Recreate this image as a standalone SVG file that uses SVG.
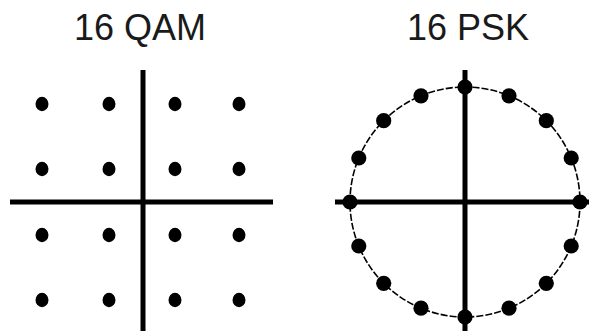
<svg xmlns="http://www.w3.org/2000/svg" width="589" height="331" viewBox="0 0 589 331">
  <style>
    .title { font-family: "Liberation Sans", Arial, sans-serif; font-size: 36px; fill: #1a1a1a; text-anchor: middle; }
    .axis { stroke: #000; stroke-width: 5; fill: none; }
    .pt { fill: #000; }
    .ring { stroke: #000; stroke-width: 1.6; fill: none; stroke-dasharray: 7 2; }
  </style>
  <defs>
    <ellipse id="qdot" rx="6.5" ry="7.2" class="pt"/>
    <circle id="pdot" r="7.6" class="pt"/>
  </defs>
  <rect width="589" height="331" fill="#fff"/>

  <g id="qam">
    <text class="title" x="140" y="40">16 QAM</text>
    <g id="qam-axes">
      <line class="axis" x1="143" y1="70" x2="143" y2="331"/>
      <line class="axis" x1="10" y1="202" x2="273" y2="202"/>
    </g>
    <g id="qam-points">
      <use href="#qdot" x="42" y="104"/><use href="#qdot" x="109" y="104"/><use href="#qdot" x="175" y="104"/><use href="#qdot" x="239" y="104"/>
      <use href="#qdot" x="42" y="169"/><use href="#qdot" x="109" y="169"/><use href="#qdot" x="175" y="169"/><use href="#qdot" x="239" y="169"/>
      <use href="#qdot" x="42" y="235"/><use href="#qdot" x="109" y="235"/><use href="#qdot" x="175" y="235"/><use href="#qdot" x="239" y="235"/>
      <use href="#qdot" x="42" y="300"/><use href="#qdot" x="109" y="300"/><use href="#qdot" x="175" y="300"/><use href="#qdot" x="239" y="300"/>
    </g>
  </g>

  <g id="psk">
    <text class="title" x="468" y="40">16 PSK</text>
    <circle class="ring" cx="465" cy="202" r="115"/>
    <g id="psk-axes">
      <line class="axis" x1="465" y1="70" x2="465" y2="331"/>
      <line class="axis" x1="335" y1="202" x2="589" y2="202"/>
    </g>
    <g id="psk-points">
      <use href="#pdot" x="580" y="202"/>
      <use href="#pdot" x="571.2" y="158"/>
      <use href="#pdot" x="546.3" y="120.7"/>
      <use href="#pdot" x="509" y="95.8"/>
      <use href="#pdot" x="465" y="87"/>
      <use href="#pdot" x="421" y="95.8"/>
      <use href="#pdot" x="383.7" y="120.7"/>
      <use href="#pdot" x="358.8" y="158"/>
      <use href="#pdot" x="350" y="202"/>
      <use href="#pdot" x="358.8" y="246"/>
      <use href="#pdot" x="383.7" y="283.3"/>
      <use href="#pdot" x="421" y="308.2"/>
      <use href="#pdot" x="465" y="317"/>
      <use href="#pdot" x="509" y="308.2"/>
      <use href="#pdot" x="546.3" y="283.3"/>
      <use href="#pdot" x="571.2" y="246"/>
    </g>
  </g>
</svg>
